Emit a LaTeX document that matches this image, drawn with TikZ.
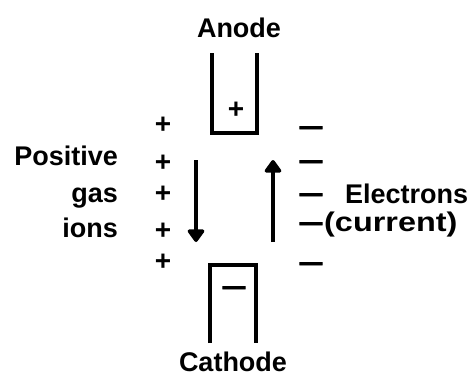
\documentclass[tikz,border=0pt]{standalone}
\usepackage{fontspec}
\setmainfont{Liberation Sans}
\newfontfamily\widesans[FakeStretch=1.2]{Liberation Sans}
\newfontfamily\dashsans[FakeStretch=1.8,FakeBold=3]{Liberation Sans}
\usetikzlibrary{arrows.meta}
\tikzset{
  txt/.style = {font=\bfseries\fontsize{27}{27}\selectfont, inner sep=0pt,
    anchor=base},% labels
  wide_txt/.style = {txt, font=\widesans\bfseries\fontsize{27}{27}\selectfont},% label large
  plus_s/.style = {font=\bfseries\fontsize{28}{28}\selectfont, inner sep=0pt},% signe +
  minus_s/.style = {font=\dashsans\bfseries\fontsize{25}{25}\selectfont, inner sep=0pt,
    text height=13pt, text depth=0pt},% signe -
  electrode/.style = {line width=4pt, line join=miter},
  flow/.style = {->, line width=4pt}
}

\begin{document}
\begin{tikzpicture}[x=1pt,y=-1pt,>={Triangle[length=14pt,width=19pt,round]}]
\useasboundingbox (0,0) rectangle (470,378);
% electrodes
\node [txt] (anode) at (239,37) {Anode};
\draw [electrode] (212,53) -- (212,133) -- (257,133) -- (257,53);
\node [plus_s] (anode_s) at (236,110) {+};
\node [txt] (cathode) at (233,371) {Cathode};
\draw [electrode] (210,343) -- (210,265) -- (256,265) -- (256,343);
\node [minus_s] (cathode_s) at (234,288) {–};
% charges
\foreach \y [count=\i] in {125,163,194,231,262}
  \node [plus_s] (pos\i) at (163,\y) {+};
\foreach \y [count=\i] in {128,162,195,224,264}
  \node [minus_s] (neg\i) at (311,\y) {–};
\node [txt, anchor=base east] (positive) at (118,165) {Positive};
\node [txt, anchor=base east] (gas) at (118,202) {gas};
\node [txt, anchor=base east] (ions) at (118,237) {ions};
\node [txt, anchor=base west] (electrons) at (345,203) {Electrons};
\node [wide_txt, anchor=base west] (current) at (324,231) {(current)};
% flux
\coordinate (ion_a) at (196,160);
\coordinate (ion_b) at (196,242);
\coordinate (el_a) at (273,242);
\coordinate (el_b) at (273,160);
\draw [flow] (ion_a) -- (ion_b);
\draw [flow] (el_a) -- (el_b);
\end{tikzpicture}
\end{document}
